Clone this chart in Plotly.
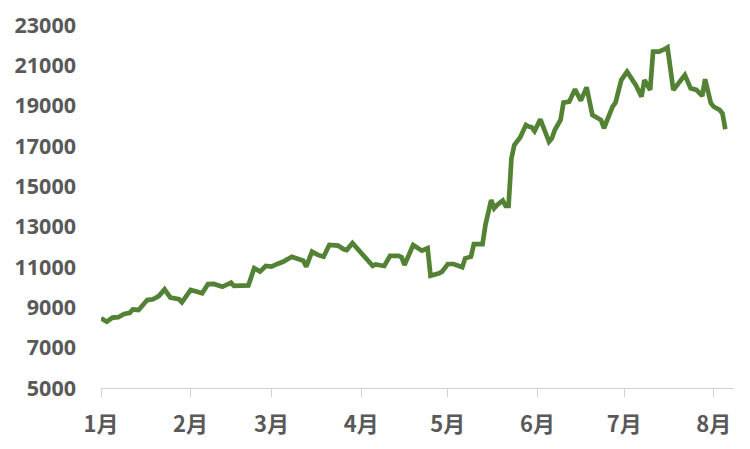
import plotly.graph_objects as go

dates = [
    "2021-01-01", "2021-01-03", "2021-01-05", "2021-01-07", "2021-01-09", "2021-01-11",
    "2021-01-12", "2021-01-14", "2021-01-17", "2021-01-19", "2021-01-21", "2021-01-23",
    "2021-01-25", "2021-01-28", "2021-01-29", "2021-02-01", "2021-02-03", "2021-02-05",
    "2021-02-07", "2021-02-09", "2021-02-12", "2021-02-15", "2021-02-16", "2021-02-19",
    "2021-02-21", "2021-02-23", "2021-02-25", "2021-02-27", "2021-03-01", "2021-03-03",
    "2021-03-05", "2021-03-08", "2021-03-10", "2021-03-12", "2021-03-13", "2021-03-15",
    "2021-03-17", "2021-03-19", "2021-03-21", "2021-03-24", "2021-03-26", "2021-03-27",
    "2021-03-29", "2021-04-01", "2021-04-05", "2021-04-06", "2021-04-09", "2021-04-11",
    "2021-04-14", "2021-04-15", "2021-04-16", "2021-04-19", "2021-04-21", "2021-04-22",
    "2021-04-24", "2021-04-25", "2021-04-28", "2021-04-29", "2021-05-01", "2021-05-03",
    "2021-05-06", "2021-05-07", "2021-05-09", "2021-05-10", "2021-05-13", "2021-05-14",
    "2021-05-16", "2021-05-17", "2021-05-18", "2021-05-20", "2021-05-21", "2021-05-22",
    "2021-05-23", "2021-05-24", "2021-05-26", "2021-05-28", "2021-05-29", "2021-05-30",
    "2021-05-31", "2021-06-02", "2021-06-05", "2021-06-06", "2021-06-07", "2021-06-09",
    "2021-06-10", "2021-06-12", "2021-06-14", "2021-06-16", "2021-06-18", "2021-06-20",
    "2021-06-23", "2021-06-24", "2021-06-27", "2021-06-28", "2021-06-30", "2021-07-02",
    "2021-07-05", "2021-07-07", "2021-07-08", "2021-07-10", "2021-07-11", "2021-07-13",
    "2021-07-15", "2021-07-16", "2021-07-18", "2021-07-20", "2021-07-22", "2021-07-24",
    "2021-07-26", "2021-07-28", "2021-07-29", "2021-07-31", "2021-08-01", "2021-08-03",
    "2021-08-04", "2021-08-05",
]

values = [
    8460, 8290, 8490, 8510, 8670, 8730,
    8900, 8870, 9360, 9400, 9560, 9890,
    9480, 9400, 9250, 9860, 9780, 9700,
    10150, 10160, 10020, 10220, 10060, 10060,
    10090, 10940, 10770, 11050, 11020, 11150,
    11260, 11510, 11380, 11310, 11020, 11760,
    11600, 11510, 12090, 12060, 11880, 11840,
    12180, 11680, 11060, 11130, 11050, 11550,
    11550, 11480, 11100, 12090, 11930, 11810,
    11930, 10570, 10690, 10770, 11150, 11150,
    10990, 11430, 11510, 12130, 12130, 13080,
    14320, 13910, 14070, 14290, 14030, 14030,
    16390, 17050, 17420, 18040, 17960, 17930,
    17740, 18320, 17210, 17380, 17790, 18290,
    19150, 19200, 19810, 19250, 19910, 18540,
    18290, 17880, 18950, 19150, 20270, 20680,
    20030, 19450, 20270, 19780, 21680, 21680,
    21800, 21890, 19780, 20190, 20520, 19860,
    19780, 19480, 20310, 19120, 18950, 18790,
    18620, 17830,
]

month_ticks = ["2021-01-01", "2021-02-01", "2021-03-01", "2021-04-01",
               "2021-05-01", "2021-06-01", "2021-07-01", "2021-08-01"]
month_labels = ["1月", "2月", "3月", "4月", "5月", "6月", "7月", "8月"]
y_ticks = [5000, 7000, 9000, 11000, 13000, 15000, 17000, 19000, 21000, 23000]
y_labels = ["5000", "7000", "9000", "11000", "13000", "15000", "17000", "19000", "21000", "23000"]

fig = go.Figure()
fig.add_trace(go.Scatter(
    x=dates, y=values, mode="lines",
    line=dict(color="#548235", width=4.7),
    hoverinfo="skip",
))

# page body adds an 8px offset; margins compensate so the plot lands where the reference has it
fig.update_layout(
    width=750, height=449,
    margin=dict(l=93, r=24, t=17, b=69),
    paper_bgcolor="white", plot_bgcolor="white",
    showlegend=False,
)
fig.update_xaxes(
    type="date", automargin=False,
    range=["2021-01-01", "2021-08-08"],
    tickmode="array", tickvals=month_ticks, ticktext=month_labels,
    showgrid=False, zeroline=False,
    showline=True, linecolor="#d0d0d0", linewidth=1,
    ticks="outside", ticklen=8, tickcolor="#d0d0d0", tickwidth=1,
    ticklabelstandoff=9,
    tickfont=dict(family="Noto Sans CJK SC", size=22, color="#595959", weight="bold"),
)
fig.update_yaxes(
    automargin=False,
    range=[5000, 23000],
    tickmode="array", tickvals=y_ticks, ticktext=y_labels,
    showgrid=False, zeroline=False, showline=False,
    ticks="", ticklabelstandoff=24,
    tickfont=dict(family="Open Sans", size=21.5, color="#595959", weight="bold"),
)

fig.write_html("out.html")
